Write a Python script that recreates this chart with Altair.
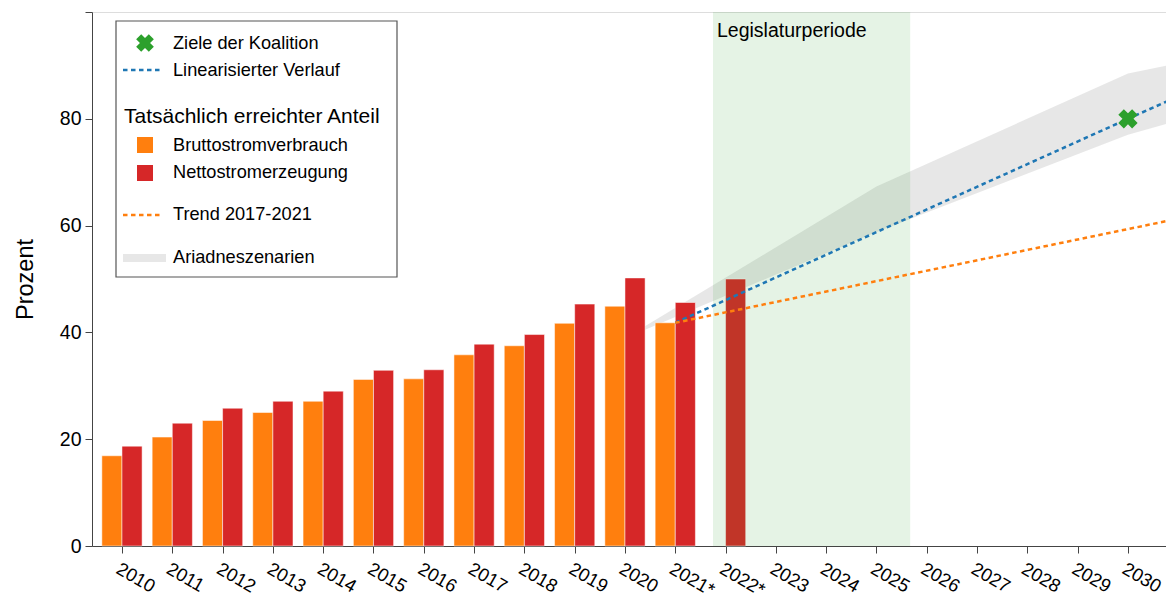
import json
import altair as alt
import pandas as pd

# ---------------- data ----------------
years = list(range(2010, 2023))
brutto = [16.9, 20.4, 23.5, 25.0, 27.1, 31.2, 31.3, 35.8, 37.5, 41.7, 44.9, 41.8, None]
netto = [18.7, 23.0, 25.8, 27.1, 29.0, 32.9, 33.0, 37.8, 39.6, 45.3, 50.2, 45.6, 50.0]
series_names = ["Bruttostromverbrauch", "Nettostromerzeugung"]

tick_years = list(range(2010, 2031))
tick_labels = ["2010", "2011", "2012", "2013", "2014", "2015", "2016", "2017",
               "2018", "2019", "2020", "2021*", "2022*", "2023", "2024", "2025",
               "2026", "2027", "2028", "2029", "2030"]

band_years = [2020, 2025, 2030, 2031]
band_low = [38.9, 58.8, 77.0, 79.7]
band_high = [38.9, 67.3, 88.5, 90.4]

lin_years = [2021, 2030, 2031]
lin_values = [41.8, 80.0, 84.2]

trend_years = [2021, 2031]
trend_values = [41.8, 61.3]

target_years = [2030]
target_values = [80.0]

legislatur_start = [2021.75]
legislatur_end = [2025.67]
legislatur_label = ["Legislaturperiode"]

# ---------------- tables ----------------
rows = []
for y, b, n in zip(years, brutto, netto):
    if b is not None:
        rows.append({"year": y, "serie": series_names[0], "value": b})
    if n is not None:
        rows.append({"year": y, "serie": series_names[1], "value": n})
bars_df = pd.DataFrame(rows)
band_df = pd.DataFrame({"year": band_years, "low": band_low, "high": band_high})
lin_df = pd.DataFrame({"year": lin_years, "value": lin_values})
trend_df = pd.DataFrame({"year": trend_years, "value": trend_values})
target_df = pd.DataFrame({"year": target_years, "value": target_values})
leg_df = pd.DataFrame({"start": legislatur_start, "end": legislatur_end, "label": legislatur_label})
one = pd.DataFrame({"a": [0]})

# ---------------- styles ----------------
FONT = "Liberation Sans"
ORANGE = "#ff7f0e"
RED = "#d62728"
BLUE = "#1f77b4"
GREEN = "#2ca02c"
GRAY = "#bbbbbb"
GRAY_OP = 0.35
DASH = [4.5, 3.5]

x_scale = alt.Scale(domain=[2009.404, 2030.756], nice=False, zero=False)
y_scale = alt.Scale(domain=[0, 100], nice=False, zero=True)

x_label_expr = json.dumps(tick_labels) + "[datum.value - %d]" % tick_years[0]
xaxis = alt.Axis(values=tick_years, labelExpr=x_label_expr, labelAngle=30,
                 labelAlign="left", labelBaseline="top", labelFontSize=18.5,
                 labelPadding=6, labelFlush=False, labelOverlap=False,
                 tickSize=7, tickColor="#444", domainColor="#444",
                 labelColor="black", grid=False, title=None)
yaxis = alt.Axis(values=[0, 20, 40, 60, 80, 100],
                 labelExpr="datum.value == 100 ? '' : datum.label",
                 labelFontSize=19.5, labelPadding=4, tickSize=7,
                 tickColor="#444", domainColor="#444", labelColor="black",
                 grid=False, title="Prozent", titleFontSize=23.5,
                 titleFontWeight="normal", titleColor="black",
                 titleX=-60, titleAngle=-90, titleBaseline="alphabetic",
                 titleAlign="center")

def X(field):
    return alt.X(field, type="quantitative", scale=x_scale, axis=xaxis)

def Y(field):
    return alt.Y(field, type="quantitative", scale=y_scale, axis=yaxis)

# ---------------- layers ----------------
band = alt.Chart(band_df).mark_area(color=GRAY, opacity=GRAY_OP, clip=True).encode(
    x=X("year"), y=Y("low"), y2="high")

bars = alt.Chart(bars_df).transform_calculate(
    x0="datum.year + (datum.serie == '%s' ? 0 : -0.4)" % series_names[1],
    x1="datum.year + (datum.serie == '%s' ? 0.4 : 0)" % series_names[1],
).mark_rect(stroke="white", strokeWidth=1, strokeOpacity=0.5).encode(
    x=X("x0"), x2="x1", y=Y("value"), y2=alt.datum(0),
    color=alt.Color("serie:N", scale=alt.Scale(domain=series_names, range=[ORANGE, RED]),
                    legend=None))

span = alt.Chart(leg_df).mark_rect(color=GREEN, opacity=0.12).encode(
    x=X("start"), x2="end", y=alt.Y(datum=100, scale=y_scale, axis=yaxis), y2=alt.datum(0))

span_text = alt.Chart(leg_df).mark_text(align="left", baseline="alphabetic", dx=4,
                                        fontSize=19.5, font=FONT, color="black").encode(
    x=X("start"), y=alt.value(25), text="label:N")

lin_line = alt.Chart(lin_df).mark_line(color=BLUE, strokeDash=DASH, strokeWidth=2.5,
                                       clip=True).encode(x=X("year"), y=Y("value"))
trend_line = alt.Chart(trend_df).mark_line(color=ORANGE, strokeDash=DASH, strokeWidth=2.5,
                                           clip=True).encode(x=X("year"), y=Y("value"))
target = alt.Chart(target_df).mark_point(shape="cross", angle=45, filled=True, size=380,
                                         color=GREEN, opacity=1).encode(
    x=X("year"), y=Y("value"))

# ---------------- hand-built legend (pixel positions in plot area) ----------------
base = alt.Chart(one)
leg_box = base.mark_rect(fill="white", stroke="#555", strokeWidth=1.2).encode(
    x=alt.value(24), x2=alt.value(305), y=alt.value(9), y2=alt.value(265))

def leg_text(txt, x, y, size=18.2):
    return base.mark_text(text=txt, align="left", baseline="middle", fontSize=size,
                          font=FONT, color="black").encode(x=alt.value(x), y=alt.value(y))

def leg_dash(color, y):
    return base.mark_rule(color=color, strokeDash=DASH, strokeWidth=2.5).encode(
        x=alt.value(31), x2=alt.value(69), y=alt.value(y))

leg_items = [
    base.mark_point(shape="cross", angle=45, filled=True, size=320, color=GREEN,
                    opacity=1).encode(x=alt.value(53), y=alt.value(31)),
    leg_text("Ziele der Koalition", 81, 32),
    leg_dash(BLUE, 58),
    leg_text("Linearisierter Verlauf", 81, 59),
    leg_text("Tatsächlich erreichter Anteil", 32, 105, 21),
    base.mark_rect(color=ORANGE).encode(x=alt.value(45), x2=alt.value(61),
                                        y=alt.value(125), y2=alt.value(141)),
    leg_text("Bruttostromverbrauch", 81, 134),
    base.mark_rect(color=RED).encode(x=alt.value(45), x2=alt.value(61),
                                     y=alt.value(153), y2=alt.value(169)),
    leg_text("Nettostromerzeugung", 81, 161),
    leg_dash(ORANGE, 203),
    leg_text("Trend 2017-2021", 81, 203),
    base.mark_rule(color=GRAY, opacity=GRAY_OP, strokeWidth=8).encode(
        x=alt.value(31), x2=alt.value(74), y=alt.value(246)),
    leg_text("Ariadneszenarien", 81, 246),
]

chart = alt.layer(band, bars, span, span_text, lin_line, trend_line, target,
                  leg_box, *leg_items).properties(
    width=1074, height=534,
    autosize=alt.AutoSizeParams(type="none"),
    padding={"left": 84, "top": 4, "right": 0, "bottom": 62},
).configure_view(stroke=None).configure(font=FONT)

chart.save("out.html", embed_options={"renderer": "svg", "actions": False})
